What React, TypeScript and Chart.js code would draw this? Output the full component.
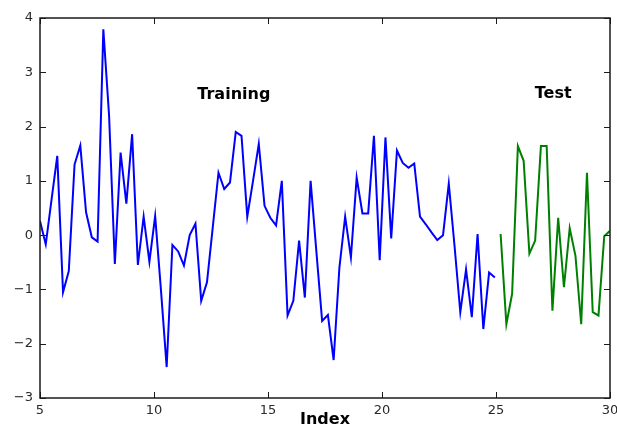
import React, { useEffect, useRef } from "react";
import { Chart, registerables } from "chart.js";

Chart.register(...registerables);

// Training series (first 80 samples)
const TRAIN_VALUES = [
  0.26, -0.17, 0.65, 1.46, -1.05, -0.66, 1.3, 1.65, 0.42, -0.04,
  -0.12, 3.79, 2.2, -0.53, 1.52, 0.58, 1.86, -0.55, 0.34, -0.49,
  0.35, -1.0, -2.43, -0.18, -0.3, -0.56, 0.0, 0.21, -1.21, -0.87,
  0.14, 1.15, 0.85, 0.97, 1.9, 1.83, 0.34, 1.0, 1.68, 0.54,
  0.32, 0.18, 1.0, -1.48, -1.21, -0.1, -1.15, 1.0, -0.3, -1.58,
  -1.47, -2.3, -0.6, 0.34, -0.41, 1.06, 0.4, 0.4, 1.83, -0.46,
  1.8, -0.06, 1.56, 1.33, 1.24, 1.32, 0.34, 0.2, 0.05, -0.09,
  0.0, 0.95, -0.2, -1.42, -0.63, -1.51, 0.02, -1.73, -0.69, -0.78,
];

// Test series (last 20 samples)
const TEST_VALUES = [
  0.02, -1.64, -1.08, 1.64, 1.37, -0.34, -0.1, 1.64, 1.64, -1.39,
  0.32, -0.96, 0.13, -0.38, -1.64, 1.15, -1.42, -1.48, -0.02, 0.08,
];

// Index axis: samples evenly spaced from 5 to 30
const INDEX_START = 5;
const INDEX_END = 30;
const SAMPLE_COUNT = TRAIN_VALUES.length + TEST_VALUES.length;

const X_TICKS = [5, 10, 15, 20, 25, 30];
const Y_TICKS = [-3, -2, -1, 0, 1, 2, 3, 4];

const ANNOTATION_TEXTS = ["Training", "Test"];
const ANNOTATION_X = [11.9, 26.7];
const ANNOTATION_Y = [2.5, 2.53];

const X_TITLE = "Index";

const indexAt = (i: number) =>
  INDEX_START + (i * (INDEX_END - INDEX_START)) / (SAMPLE_COUNT - 1);

const FONT = "'DejaVu Sans', sans-serif";

export default function App() {
  const canvasRef = useRef<HTMLCanvasElement | null>(null);

  useEffect(() => {
    const canvas = canvasRef.current;
    if (!canvas) return;

    const trainData = TRAIN_VALUES.map((y, i) => ({ x: indexAt(i), y }));
    const testData = TEST_VALUES.map((y, i) => ({
      x: indexAt(i + TRAIN_VALUES.length),
      y,
    }));

    const framePlugin = {
      id: "mplFrame",
      afterDatasetsDraw(chart: any) {
        const { ctx, chartArea } = chart;
        const { left, right, top, bottom } = chartArea;
        const xs = chart.scales.x;
        const ys = chart.scales.y;
        const tickLen = 6;
        ctx.save();
        ctx.strokeStyle = "#1a1a1a";
        ctx.lineWidth = 1;
        ctx.beginPath();
        X_TICKS.forEach((t) => {
          const px = Math.round(xs.getPixelForValue(t)) + 0.5;
          ctx.moveTo(px, bottom);
          ctx.lineTo(px, bottom - tickLen);
          ctx.moveTo(px, top);
          ctx.lineTo(px, top + tickLen);
        });
        Y_TICKS.forEach((t) => {
          const py = Math.round(ys.getPixelForValue(t)) + 0.5;
          ctx.moveTo(left, py);
          ctx.lineTo(left + tickLen, py);
          ctx.moveTo(right, py);
          ctx.lineTo(right - tickLen, py);
        });
        ctx.stroke();
        ctx.lineWidth = 1.5;
        ctx.strokeRect(left, top, right - left, bottom - top);

        ctx.fillStyle = "#000";
        ctx.font = `bold 16px ${FONT}`;
        ctx.textAlign = "left";
        ctx.textBaseline = "alphabetic";
        ANNOTATION_TEXTS.forEach((txt, i) => {
          ctx.fillText(
            txt,
            xs.getPixelForValue(ANNOTATION_X[i]),
            ys.getPixelForValue(ANNOTATION_Y[i])
          );
        });
        ctx.restore();
      },
    };

    const chart = new Chart(canvas, {
      type: "line",
      data: {
        datasets: [
          {
            label: "Training",
            data: trainData,
            borderColor: "#0000ff",
            borderWidth: 2,
            pointRadius: 0,
            tension: 0,
            fill: false,
          },
          {
            label: "Test",
            data: testData,
            borderColor: "#008000",
            borderWidth: 2,
            pointRadius: 0,
            tension: 0,
            fill: false,
          },
        ],
      },
      options: {
        animation: false,
        responsive: false,
        devicePixelRatio: 1,
        layout: { padding: { top: 18, right: 7, left: 0, bottom: 0 } },
        plugins: {
          legend: { display: false },
          tooltip: { enabled: false },
        },
        scales: {
          x: {
            type: "linear",
            min: INDEX_START,
            max: INDEX_END,
            afterBuildTicks(scale: any) {
              scale.ticks = X_TICKS.map((v) => ({ value: v }));
            },
            afterFit(scale: any) {
              scale.height = 30;
              scale.paddingLeft = 0;
              scale.paddingRight = 0;
            },
            grid: { display: false, drawTicks: false },
            border: { display: false },
            ticks: {
              padding: 5,
              maxRotation: 0,
              autoSkip: false,
              color: "#2a2a2a",
              font: { family: FONT, size: 13 },
              callback: (v: any) => String(v).replace("-", "\u2212"),
            },
            title: {
              display: true,
              text: X_TITLE,
              color: "#000",
              padding: { top: 0, bottom: 0 },
              font: { family: FONT, size: 16, weight: "bold", lineHeight: 1.0 },
            },
          },
          y: {
            type: "linear",
            min: -3,
            max: 4,
            afterBuildTicks(scale: any) {
              scale.ticks = Y_TICKS.map((v) => ({ value: v }));
            },
            afterFit(scale: any) {
              scale.width = 40;
              scale.paddingTop = 0;
              scale.paddingBottom = 0;
            },
            grid: { display: false, drawTicks: false },
            border: { display: false },
            ticks: {
              padding: 7,
              autoSkip: false,
              color: "#2a2a2a",
              font: { family: FONT, size: 13 },
              callback: (v: any) => String(v).replace("-", "\u2212"),
            },
          },
        },
      },
      plugins: [framePlugin],
    } as any);

    return () => chart.destroy();
  }, []);

  return (
    <div
      style={{
        position: "absolute",
        left: 0,
        top: 0,
        width: 617,
        height: 428,
        background: "#fff",
      }}
    >
      <canvas ref={canvasRef} width={617} height={428} />
    </div>
  );
}
